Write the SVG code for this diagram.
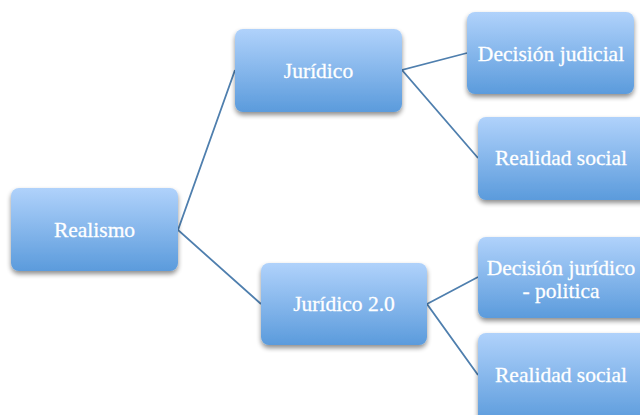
<svg xmlns="http://www.w3.org/2000/svg" width="640" height="415" viewBox="0 0 640 415">
<defs>
<linearGradient id="g" x1="0" y1="0" x2="0" y2="1">
<stop offset="0" stop-color="#b0d2fb"/>
<stop offset="1" stop-color="#5b9bdc"/>
</linearGradient>
<filter id="sh" x="-20%" y="-20%" width="140%" height="150%">
<feGaussianBlur in="SourceAlpha" stdDeviation="2.5"/>
<feOffset dx="0" dy="3" result="b"/>
<feComponentTransfer><feFuncA type="linear" slope="0.45"/></feComponentTransfer>
<feMerge><feMergeNode/><feMergeNode in="SourceGraphic"/></feMerge>
</filter>
</defs>
<style>
.box{fill:url(#g);filter:url(#sh)}
.t{font-family:"Liberation Serif","DejaVu Serif",serif;font-size:21.5px;fill:#ffffff;stroke:#ffffff;stroke-width:0.3;text-anchor:middle;dominant-baseline:central}
.c{stroke:#4f7fae;stroke-width:1.8;fill:none}
</style>
<rect width="640" height="415" fill="#ffffff"/>
<g id="connectors">
<polyline class="c" points="235,70 178,230 261,304"/>
<polyline class="c" points="467,53 402,70 478,158"/>
<polyline class="c" points="478,277 427,304 478,375"/>
</g>
<g id="realismo"><rect class="box" x="11" y="188" width="167" height="83" rx="8"/><text class="t" x="94.5" y="230">Realismo</text></g>
<g id="juridico"><rect class="box" x="235" y="29" width="167" height="83" rx="8"/><text class="t" x="318.5" y="71">Jurídico</text></g>
<g id="juridico2"><rect class="box" x="261" y="263" width="166" height="82" rx="8"/><text class="t" x="344" y="304">Jurídico 2.0</text></g>
<g id="decision-judicial"><rect class="box" x="467" y="12" width="167" height="82" rx="8"/><text class="t" x="551" y="54">Decisión judicial</text></g>
<g id="realidad-social-1"><rect class="box" x="478" y="117" width="172" height="83" rx="8"/><text class="t" x="561" y="158">Realidad social</text></g>
<g id="decision-juridico"><rect class="box" x="478" y="237" width="172" height="81" rx="8"/><text class="t" x="561" y="268">Decisión jurídico</text><text class="t" x="561" y="291">- politica</text></g>
<g id="realidad-social-2"><rect class="box" x="478" y="333" width="172" height="90" rx="8"/><text class="t" x="561" y="375">Realidad social</text></g>
</svg>
